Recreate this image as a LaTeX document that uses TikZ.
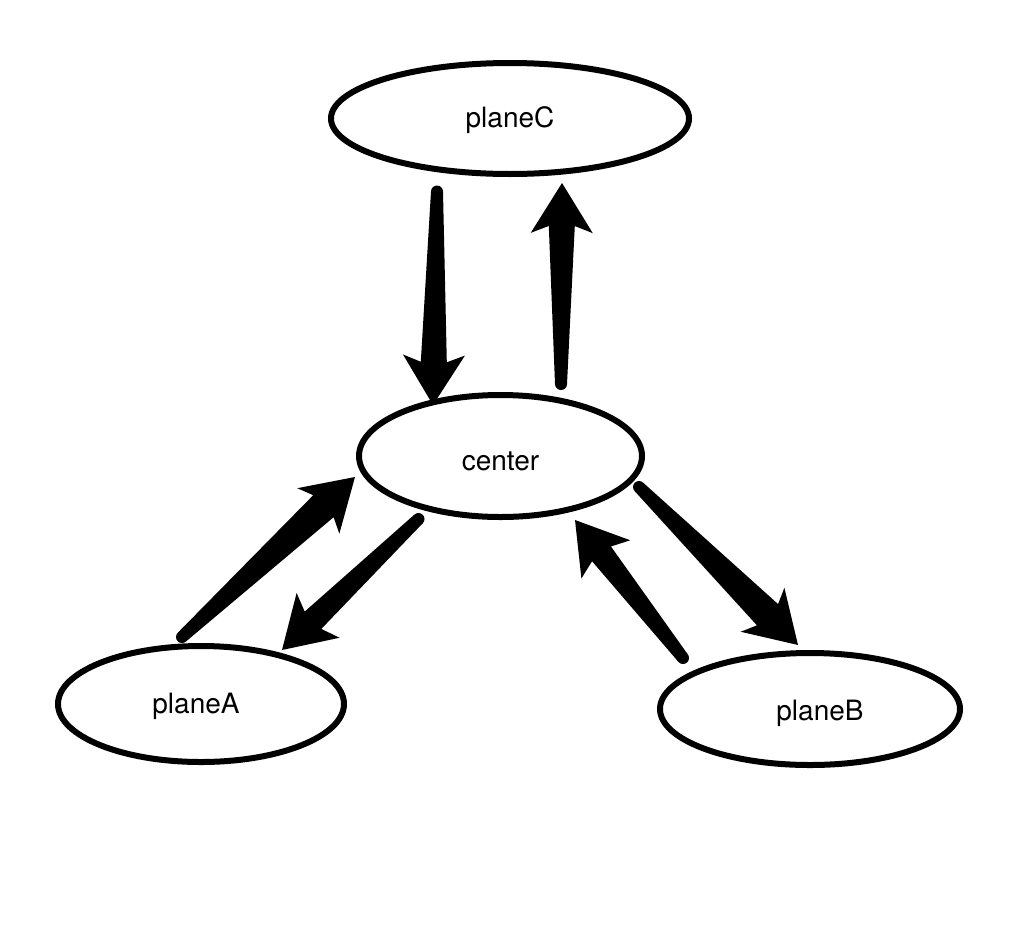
\documentclass[tikz,border=0pt]{standalone}
\usepackage{fontspec}
\setmainfont{TeX Gyre Heros}
\usetikzlibrary{calc,shapes.geometric}
\tikzset{
  planebox/.style={ellipse, draw, line width=6pt, inner sep=0pt,
    font=\fontsize{28}{33}\selectfont},
}
% label text whose baseline sits #1 below the node centre
\newcommand\lbl[2]{\raisebox{-#1}[0pt][0pt]{#2}}
% #1 tail, #2 tip, #3 shaft half-width at head (pt)
\newcommand\fatarrow[3]{%
  \fill ($(#2)!50pt!(#1)!31pt!90:(#1)$) -- (#2) -- ($(#2)!50pt!(#1)!31pt!-90:(#1)$)
    -- ($(#2)!43pt!(#1)!#3pt!-90:(#1)$) -- ($(#1)!6pt!90:(#2)$)
    -- ($(#1)!6pt!-90:(#2)$) -- ($(#2)!43pt!(#1)!#3pt!90:(#1)$) -- cycle;
  \fill (#1) circle[radius=6pt];}
\begin{document}
\begin{tikzpicture}[x=1pt,y=-1pt]
\useasboundingbox (0,0) rectangle (1016,926);
\fill[white] (0,0) rectangle (1016,926);
\node[planebox, minimum width=358pt, minimum height=111pt] (planeC) at (510,118.5) {\lbl{9pt}{planeC}};
\node[planebox, minimum width=283pt, minimum height=122pt] (cnode) at (500.5,456) {\lbl{14pt}{center}};
\node[planebox, minimum width=286pt, minimum height=116pt] (planeA) at (201,704) {\hspace*{-10pt}\lbl{9pt}{planeA}};
\node[planebox, minimum width=300pt, minimum height=112pt] (planeB) at (810,709) {\hspace*{20pt}\lbl{11pt}{planeB}};
% connector end points, relative to the nodes
\coordinate (c1s) at ($(planeC.center)+(-73,73)$);
\coordinate (c1e) at ($(cnode.center)+(-67.5,-51)$);
\coordinate (c2s) at ($(cnode.center)+(60.5,-72)$);
\coordinate (c2e) at ($(planeC.center)+(52,64.5)$);
\coordinate (c3s) at ($(planeA.center)+(-19,-67)$);
\coordinate (c3e) at ($(cnode.center)+(-145.5,21)$);
\coordinate (c4s) at ($(cnode.center)+(-82,63)$);
\coordinate (c4e) at ($(planeA.center)+(81,-54)$);
\coordinate (c5s) at ($(cnode.center)+(138.5,31)$);
\coordinate (c5e) at ($(planeB.center)+(-12,-64)$);
\coordinate (c6s) at ($(planeB.center)+(-127,-51)$);
\coordinate (c6e) at ($(cnode.center)+(74.5,64)$);
\fatarrow{c1s}{c1e}{13}
\fatarrow{c2s}{c2e}{13}
\fatarrow{c3s}{c3e}{15}
\fatarrow{c4s}{c4e}{12}
\fatarrow{c5s}{c5e}{15}
\fatarrow{c6s}{c6e}{12}
\end{tikzpicture}
\end{document}
